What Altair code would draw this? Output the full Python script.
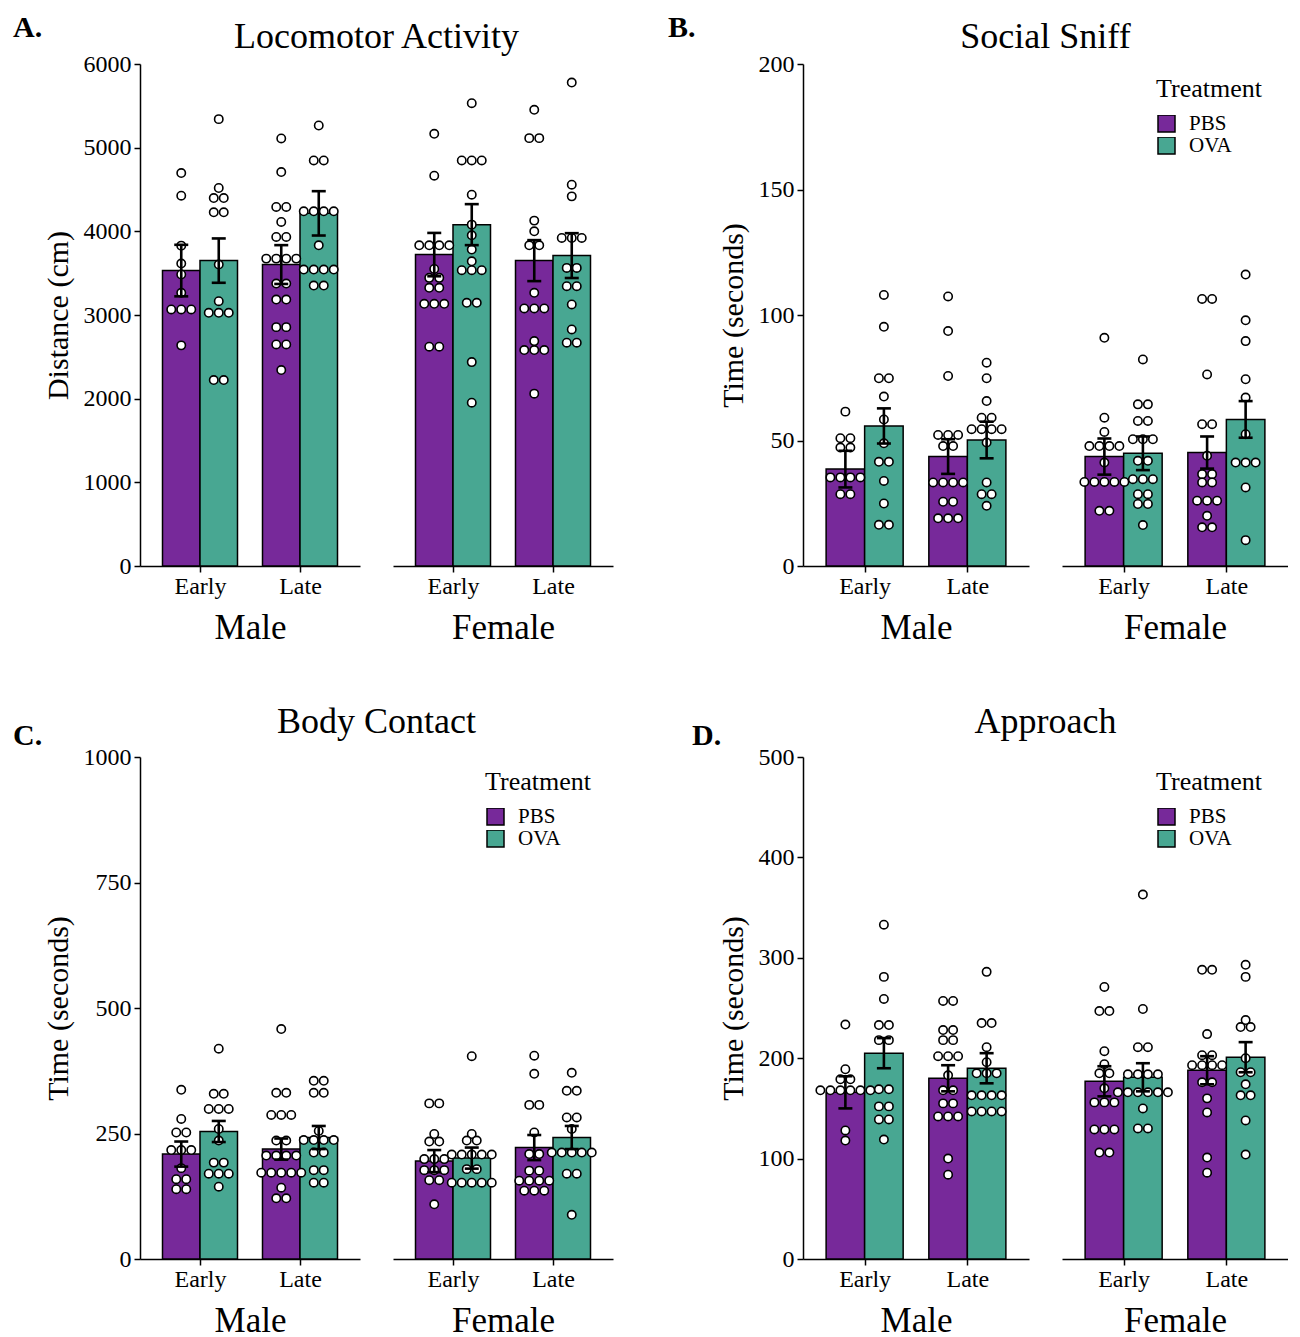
import altair as alt
import pandas as pd

SEXES = ["Male", "Female"]
TIMES = ["Early", "Late"]
TREATMENTS = ["PBS", "OVA"]
COLORS = ["#77299A", "#48A792"]

# Group order in every list below:
# Male-Early-PBS, Male-Early-OVA, Male-Late-PBS, Male-Late-OVA,
# Female-Early-PBS, Female-Early-OVA, Female-Late-PBS, Female-Late-OVA

# A. Locomotor Activity (cm)
LOCO_POINTS = [
    [4697, 4426, 3829, 3615, 3484, 3265, 3066, 3066, 3066, 2637],
    [5341, 4518, 4398, 4398, 4227, 4227, 3603, 3165, 3026, 3026, 3026, 2223, 2223],
    [5110, 4709, 4291, 4291, 4112, 3933, 3933, 3674, 3674, 3674, 3674, 3376, 3376,
     3185, 3185, 2855, 2855, 2648, 2648, 2342],
    [5265, 4847, 4847, 4239, 4239, 4239, 4239, 3833, 3543, 3543, 3543, 3543, 3352, 3352],
    [5166, 4665, 3833, 3833, 3833, 3833, 3551, 3444, 3444, 3325, 3325, 3134, 3134, 3134,
     2621, 2621],
    [5532, 4847, 4847, 4847, 4438, 4080, 3952, 3782, 3642, 3535, 3535, 3535, 3146, 3146,
     2437, 1952],
    [5452, 5114, 5114, 4128, 4000, 3833, 3833, 3265, 3078, 3078, 3078, 2688, 2581, 2581,
     2581, 2060],
    [5778, 4557, 4418, 3921, 3921, 3921, 3563, 3563, 3344, 3344, 3126, 2827, 2669, 2669],
]
LOCO_MEAN = [3531, 3650, 3603, 4215, 3722, 4080, 3650, 3710]
LOCO_SEM = [308, 265, 232, 265, 259, 245, 245, 268]

# B. Social Sniff (seconds)
SNIFF_POINTS = [
    [61.5, 50.9, 50.9, 47.2, 47.2, 35.3, 35.3, 35.3, 35.3, 28.6, 28.6],
    [108.0, 95.3, 74.8, 74.8, 67.5, 58.4, 48.9, 41.5, 41.5, 33.9, 24.9, 16.4, 16.4],
    [107.4, 93.6, 75.7, 52.2, 52.2, 52.2, 47.8, 47.8, 33.3, 33.3, 33.3, 33.3, 25.6, 25.6,
     19.0, 19.0, 19.0],
    [81.0, 74.8, 65.7, 59.1, 59.1, 54.5, 54.5, 54.5, 54.5, 49.2, 33.3, 28.6, 28.6, 24.0],
    [90.9, 59.1, 53.4, 47.8, 47.8, 47.8, 47.8, 41.2, 33.5, 33.5, 33.5, 33.5, 33.5, 22.0, 22.0],
    [82.3, 64.4, 64.4, 57.8, 57.8, 50.5, 50.5, 50.5, 41.9, 41.9, 34.6, 34.6, 34.6, 28.6, 28.6,
     24.7, 24.7, 16.3],
    [106.4, 106.4, 76.3, 56.5, 56.5, 43.9, 36.6, 36.6, 33.3, 33.3, 26.0, 26.0, 26.0, 20.0,
     15.4, 15.4],
    [116.1, 97.9, 89.6, 74.4, 67.1, 52.5, 41.2, 41.2, 41.2, 31.3, 10.3],
]
SNIFF_MEAN = [38.6, 55.8, 43.6, 50.2, 43.6, 44.9, 45.2, 58.4]
SNIFF_SEM = [7.3, 7.0, 6.9, 7.3, 7.2, 6.7, 6.4, 7.3]

# C. Body Contact (seconds)
CONTACT_POINTS = [
    [337, 279, 252, 252, 217, 217, 217, 181, 159, 159, 139, 139],
    [419, 329, 329, 299, 299, 299, 259, 236, 192, 192, 170, 170, 170, 144],
    [458, 331, 331, 287, 287, 287, 236, 236, 206, 206, 206, 206, 172, 172, 172, 172, 172,
     142, 121, 121],
    [355, 355, 331, 331, 255, 237, 237, 237, 237, 212, 212, 177, 177, 152, 152],
    [310, 310, 249, 234, 234, 199, 199, 199, 177, 177, 177, 157, 157, 109],
    [404, 249, 236, 236, 208, 208, 208, 208, 208, 179, 179, 152, 152, 152, 152, 152],
    [405, 369, 307, 307, 252, 209, 209, 176, 176, 156, 156, 156, 156, 136, 136, 136],
    [371, 335, 335, 282, 282, 259, 212, 212, 212, 212, 212, 170, 170, 88],
]
CONTACT_MEAN = [209, 254, 219, 242, 195, 201, 222, 242]
CONTACT_SEM = [25, 21, 21, 23, 22, 21, 25, 23]

# D. Approach (seconds)
APPROACH_POINTS = [
    [233.5, 189, 179, 179, 168, 168, 168, 168, 168, 168, 128, 118],
    [333, 281, 259, 233, 233, 218, 218, 169, 169, 152, 152, 139, 139, 119],
    [257, 257, 228, 228, 218, 218, 202, 202, 202, 183, 168, 168, 155, 155, 142, 142, 142,
     100, 84],
    [286, 235, 235, 211, 196, 185, 185, 185, 163, 163, 163, 163, 147, 147, 147, 147],
    [271, 247, 247, 207, 194, 185, 185, 170, 156, 156, 156, 129, 129, 129, 106, 106],
    [363, 249, 211, 211, 184, 184, 184, 184, 166, 166, 166, 166, 166, 166, 150, 130, 130],
    [288, 288, 224, 203, 203, 193, 193, 193, 193, 176, 176, 160, 146, 101, 86],
    [293, 281, 238, 231, 231, 200, 186, 186, 174, 163, 163, 138, 104],
]
APPROACH_MEAN = [166, 205, 180, 190, 177, 181, 188, 201]
APPROACH_SEM = [16, 15, 13, 15, 15, 14, 14, 15]

SERIF = "Liberation Serif"
BAR_W = 0.375
CAP_PX = 7
DOT_PX = 10
HEIGHT = 502
GAP = 33


def dot_offsets(values, step):
    counts = {}
    for v in values:
        counts[v] = counts.get(v, 0) + 1
    seen = {}
    offs = []
    for v in values:
        n = counts[v]
        i = seen.get(v, 0)
        seen[v] = i + 1
        offs.append((i - (n - 1) / 2) * step)
    return offs


def sex_chart(si, points, means, sems, cfg, with_legend):
    width = cfg["width"]
    ppu = width / 2.2
    step = DOT_PX / ppu
    cap = CAP_PX / ppu
    sex = SEXES[si]
    bar_rows, pt_rows = [], []
    for ti, time in enumerate(TIMES):
        for ki, trt in enumerate(TREATMENTS):
            g = si * 4 + ti * 2 + ki
            x0 = (ti + 1) - BAR_W + ki * BAR_W
            xc = x0 + BAR_W / 2
            m, s = means[g], sems[g]
            bar_rows.append(dict(treat=trt, x0=x0, x1=x0 + BAR_W, xc=xc,
                                 cl=xc - cap, cr=xc + cap, mean=m,
                                 lo=m - s, hi=m + s))
            for v, o in zip(points[g], dot_offsets(points[g], step)):
                pt_rows.append(dict(treat=trt, x=xc + o, v=v))
    bars = pd.DataFrame(bar_rows)
    pts = pd.DataFrame(pt_rows)

    xscale = alt.Scale(domain=[0.4, 2.6], nice=False, zero=False)
    yscale = alt.Scale(domain=[0, cfg["ymax"]], nice=False, zero=True)
    xaxis = alt.Axis(values=[1, 2], labelExpr="datum.value == 1 ? 'Early' : 'Late'",
                     title=sex, titleFontSize=35, titlePadding=12, labelPadding=2)
    if si == 0:
        yaxis = alt.Axis(values=list(range(0, cfg["ymax"] + 1, cfg["ystep"])), format="d",
                         title=cfg["ytitle"], titleFontSize=30, titlePadding=10,
                         labelPadding=3)
    else:
        yaxis = None

    def X(f):
        return alt.X(f, type="quantitative", scale=xscale, axis=xaxis)

    def Y(f):
        return alt.Y(f, type="quantitative", scale=yscale, axis=yaxis)

    if with_legend:
        legend = alt.Legend(title="Treatment", orient="none", legendX=cfg["legx"],
                            legendY=cfg["legy"], titleFont=SERIF, titleFontSize=26,
                            titleFontWeight="normal", titleColor="black",
                            titlePadding=13, labelFont=SERIF, labelFontSize=21,
                            labelColor="black", symbolType="square", symbolSize=289,
                            symbolStrokeColor="black", symbolStrokeWidth=1.5,
                            labelOffset=12, rowPadding=0, clipHeight=17)
    else:
        legend = None
    color = alt.Color("treat:N", scale=alt.Scale(domain=TREATMENTS, range=COLORS),
                      legend=legend)

    bar_layer = alt.Chart(bars).mark_bar(stroke="black", strokeWidth=1.5).encode(
        x=X("x0"), x2="x1", y=Y("mean"), y2=alt.datum(0), color=color)
    pt_layer = alt.Chart(pts).mark_circle(
        color="white", stroke="black", strokeWidth=1.6, size=70, opacity=1).encode(
        x=X("x"), y=Y("v"))
    err_v = alt.Chart(bars).mark_rule(color="black", strokeWidth=2.6).encode(
        x=X("xc"), y=Y("lo"), y2="hi")
    err_top = alt.Chart(bars).mark_rule(color="black", strokeWidth=2.6).encode(
        x=X("cl"), x2="cr", y=Y("hi"))
    err_bot = alt.Chart(bars).mark_rule(color="black", strokeWidth=2.6).encode(
        x=X("cl"), x2="cr", y=Y("lo"))
    # panel letter (visible in the Male view; an invisible twin keeps the Female
    # view's top extent identical so both plot areas line up)
    letter = alt.Chart(pd.DataFrame({"t": [cfg["letter"]]})).mark_text(
        font=SERIF, fontSize=30, fontWeight="bold", align="left", baseline="alphabetic",
        color="black", opacity=1 if si == 0 else 0).encode(
        x=alt.value(cfg["letx"] if si == 0 else 0), y=alt.value(cfg["lety"]), text="t:N")
    return alt.layer(bar_layer, pt_layer, err_v, err_top, err_bot, letter).properties(
        width=width, height=HEIGHT)


def panel(points, means, sems, cfg, legend):
    male = sex_chart(0, points, means, sems, cfg, False)
    female = sex_chart(1, points, means, sems, cfg, legend)
    left_extent = -cfg["letx"]
    full_w = left_extent + cfg["width"] * 2 + GAP
    plot_center = left_extent + (cfg["width"] * 2 + GAP) / 2
    dx = plot_center - full_w / 2
    return alt.hconcat(male, female, spacing=GAP).properties(
        title=alt.TitleParams(cfg["title"], anchor="middle", dx=dx, offset=cfg["toff"],
                              font=SERIF, fontSize=36, fontWeight="normal",
                              color="black")
    ).resolve_scale(color="independent")


cfgA = dict(title="Locomotor Activity", ytitle="Distance (cm)", ymax=6000, ystep=1000,
            letter="A.", letx=-127, lety=-27, width=220, toff=-43, legx=94, legy=12)
cfgB = dict(title="Social Sniff", ytitle="Time (seconds)", ymax=200, ystep=50,
            letter="B.", letx=-135, lety=-27, width=226, toff=-43, legx=94, legy=12)
cfgC = dict(title="Body Contact", ytitle="Time (seconds)", ymax=1000, ystep=250,
            letter="C.", letx=-127, lety=-12, width=220, toff=-20, legx=92, legy=12)
cfgD = dict(title="Approach", ytitle="Time (seconds)", ymax=500, ystep=100,
            letter="D.", letx=-111, lety=-12, width=226, toff=-20, legx=94, legy=12)

pA = panel(LOCO_POINTS, LOCO_MEAN, LOCO_SEM, cfgA, False)
pB = panel(SNIFF_POINTS, SNIFF_MEAN, SNIFF_SEM, cfgB, True)
pC = panel(CONTACT_POINTS, CONTACT_MEAN, CONTACT_SEM, cfgC, True)
pD = panel(APPROACH_POINTS, APPROACH_MEAN, APPROACH_SEM, cfgD, True)

row1 = alt.hconcat(pA, pB, spacing=55).resolve_scale(color="independent")
row2 = alt.hconcat(pC, pD, spacing=79).resolve_scale(color="independent")

chart = alt.vconcat(row1, row2, spacing=59).resolve_scale(
    color="independent"
).properties(
    padding={"left": 5, "top": 5, "right": 0, "bottom": 0}
).configure_view(stroke=None).configure_axis(
    domainColor="black", domainWidth=1.5, tickColor="black", tickWidth=1.5, tickSize=6,
    labelFont=SERIF, labelFontSize=24, labelColor="black", titleFont=SERIF,
    titleFontWeight="normal", titleColor="black", grid=False
).configure_title(font=SERIF, color="black")

chart.save("out.html", embed_options={"renderer": "svg", "actions": False})
